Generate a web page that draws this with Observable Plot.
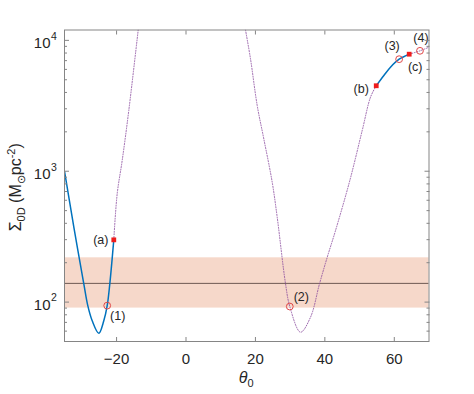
<!DOCTYPE html>
<html>
<head>
<meta charset="utf-8">
<script src="https://cdn.jsdelivr.net/npm/d3@7"></script>
<script src="https://cdn.jsdelivr.net/npm/@observablehq/plot@0.6"></script>
<style>
  html, body { margin: 0; padding: 0; background: #fff; }
  #chart svg { display: block; }
</style>
</head>
<body>
<div id="chart"></div>
<script>
// ---------- data ----------
const xDomain = [-35, 70];
const yDomain = [50, 12000];
const xTicks = [-20, 0, 20, 40, 60];
const yMajor = [100, 1000, 10000];
const yMinor = [60, 70, 80, 90, 200, 300, 400, 500, 600, 700, 800, 900,
                2000, 3000, 4000, 5000, 6000, 7000, 8000, 9000];

const bandLow = 90, bandHigh = 218, bandMid = 139;

// solid (blue) branches
const blueLeftX = [-35, -32.3, -29.44, -28.29, -27.02, -25.12, -23.68, -22.7, -21.95, -20.8];
const blueLeftY = [1000, 373, 138, 94, 72, 57.8, 72, 94, 138, 299];
const blueRightX = [54.8, 57.0, 58.9, 61.4, 64.3];
const blueRightY = [4500, 5390, 6240, 7180, 7840];

// dotted (purple) branches
const dotLeftX = [-20.8, -19.82, -18.38, -16.48, -13.77];
const dotLeftY = [299, 673, 1208, 2910, 12000];
const dotMidX = [17.14, 18.58, 20.51, 22.41, 24.83, 26.27, 28.67, 29.9, 32.99,
                 35.87, 38.46, 40.68, 43.07, 47.19, 50.76, 53.15, 54.8];
const dotMidY = [12000, 7230, 3180, 1770, 825, 446, 138, 92.5, 58.9,
                 76.7, 138, 220, 352, 849, 2048, 3680, 4500];
const dotRightX = [64.3, 67.4, 70];
const dotRightY = [7840, 8320, 8870];

// marked points
const squareNames = ["(a)", "(b)", "(c)"];
const squareX = [-20.8, 54.8, 64.3];
const squareY = [299, 4500, 7840];
const circleNames = ["(1)", "(2)", "(3)", "(4)"];
const circleX = [-22.7, 29.9, 61.4, 67.4];
const circleY = [94, 92.5, 7180, 8320];

// ---------- build tables ----------
const zipXY = (xs, ys) => xs.map((x, i) => ({x, y: ys[i]}));
const blueLeft = zipXY(blueLeftX, blueLeftY);
const blueRight = zipXY(blueRightX, blueRightY);
const dotLeft = zipXY(dotLeftX, dotLeftY);
const dotMid = zipXY(dotMidX, dotMidY);
const dotRight = zipXY(dotRightX, dotRightY);
const squares = squareNames.map((name, i) => ({name, x: squareX[i], y: squareY[i]}));
const circles = circleNames.map((name, i) => ({name, x: circleX[i], y: circleY[i]}));

// label offsets (layout, px)
const labelOffset = {
  "(a)": [-13, 0], "(b)": [-15, 3], "(c)": [6, 13],
  "(1)": [10.5, 10], "(2)": [11.5, -9.5], "(3)": [-7, -13], "(4)": [1, -12.5]
};

const W = 474, H = 394;
const mL = 64, mR = 45.5, mT = 29.5, mB = 53;
const axisGray = "#858585";
const textColor = "#262626";
const blue = "#0072BD", purple = "#8a4a9e", red = "#ee1c1c", ring = "#e04848";
const font = "'Liberation Sans', Arial, Helvetica, sans-serif";

const lineOpts = {x: "x", y: "y", curve: "catmull-rom", clip: true};
const dotStyle = {stroke: purple, strokeWidth: 1, strokeDasharray: "1 1.6", strokeOpacity: 0.85};

const labelMarks = [...squares, ...circles].map(d =>
  Plot.text([d], {x: "x", y: "y", text: "name", dx: labelOffset[d.name][0], dy: labelOffset[d.name][1],
    fontSize: 12.5, fill: textColor, textAnchor: "middle"}));

const plot = Plot.plot({
  width: W, height: H,
  marginLeft: mL, marginRight: mR, marginTop: mT, marginBottom: mB,
  x: {domain: xDomain, label: null},
  y: {type: "log", domain: yDomain, label: null},
  style: {fontFamily: font, background: "white", overflow: "visible"},
  marks: [
    Plot.rect([0], {x1: xDomain[0], x2: xDomain[1], y1: bandLow, y2: bandHigh, fill: "#f6d8ca"}),
    Plot.ruleY([bandMid], {x1: xDomain[0], x2: xDomain[1], stroke: "#6e5852", strokeWidth: 1}),
    Plot.line(dotLeft, {...lineOpts, ...dotStyle}),
    Plot.line(dotMid, {...lineOpts, ...dotStyle}),
    Plot.line(dotRight, {...lineOpts, ...dotStyle}),
    Plot.line(blueLeft, {...lineOpts, stroke: blue, strokeWidth: 1.5}),
    Plot.line(blueRight, {...lineOpts, stroke: blue, strokeWidth: 1.5}),
    Plot.dot(circles, {x: "x", y: "y", r: 3.4, stroke: ring, strokeWidth: 1, fill: "none"}),
    Plot.dot(squares, {x: "x", y: "y", r: 2.7, symbol: "square", fill: red, stroke: "none"}),
    ...labelMarks,
    Plot.frame({stroke: axisGray, strokeWidth: 1}),
    // inward ticks
    Plot.axisX(xTicks, {anchor: "bottom", tickSize: -4, tickFormat: () => null, stroke: axisGray, label: null}),
    Plot.axisX(xTicks, {anchor: "top", tickSize: -4, tickFormat: () => null, stroke: axisGray, label: null}),
    Plot.axisY(yMajor, {anchor: "left", tickSize: -5, tickFormat: () => null, stroke: axisGray, label: null}),
    Plot.axisY(yMajor, {anchor: "right", tickSize: -5, tickFormat: () => null, stroke: axisGray, label: null}),
    Plot.axisY(yMinor, {anchor: "left", tickSize: -3, tickFormat: () => null, stroke: axisGray, label: null}),
    Plot.axisY(yMinor, {anchor: "right", tickSize: -3, tickFormat: () => null, stroke: axisGray, label: null}),
    // tick labels
    Plot.axisX(xTicks, {anchor: "bottom", tickSize: 0, tickPadding: 11.5, fontSize: 15, fill: textColor, label: null}),
    Plot.axisY(yMajor, {anchor: "left", tickSize: 0, tickPadding: 14, tickFormat: () => "10",
      fontSize: 15, fill: textColor, dy: 3, label: null}),
    Plot.axisY(yMajor, {anchor: "left", tickSize: 0, tickPadding: 13.5,
      tickFormat: d => String(Math.round(Math.log10(d))), textAnchor: "start",
      fontSize: 10.5, fill: textColor, dy: -4, label: null})
  ]
});

document.getElementById("chart").appendChild(plot);

// axis titles with sub/superscripts
const svg = d3.select(plot);
const frameCx = mL + (W - mL - mR) / 2;
const frameCy = mT + (H - mT - mB) / 2;

const xl = svg.append("text")
  .attr("x", frameCx).attr("y", 383)
  .attr("text-anchor", "middle")
  .attr("font-family", font).attr("fill", textColor).attr("font-size", 16);
xl.append("tspan").attr("font-style", "italic").text("θ");
xl.append("tspan").attr("font-size", 11).attr("dy", 4).text("0");

const yl = svg.append("text")
  .attr("transform", `translate(21, ${frameCy + 2}) rotate(-90)`)
  .attr("text-anchor", "middle")
  .attr("font-family", font).attr("fill", textColor).attr("font-size", 16);
yl.append("tspan").text("Σ");
yl.append("tspan").attr("font-size", 11).attr("dy", 4).text("0D");
yl.append("tspan").attr("dy", -4).text(" (M");
yl.append("tspan").attr("font-size", 11).attr("dy", 4).text("⊙");
yl.append("tspan").attr("dy", -4).text("pc");
yl.append("tspan").attr("font-size", 11).attr("dy", -6).text("-2");
yl.append("tspan").attr("dy", 6).text(")");
</script>
</body>
</html>
